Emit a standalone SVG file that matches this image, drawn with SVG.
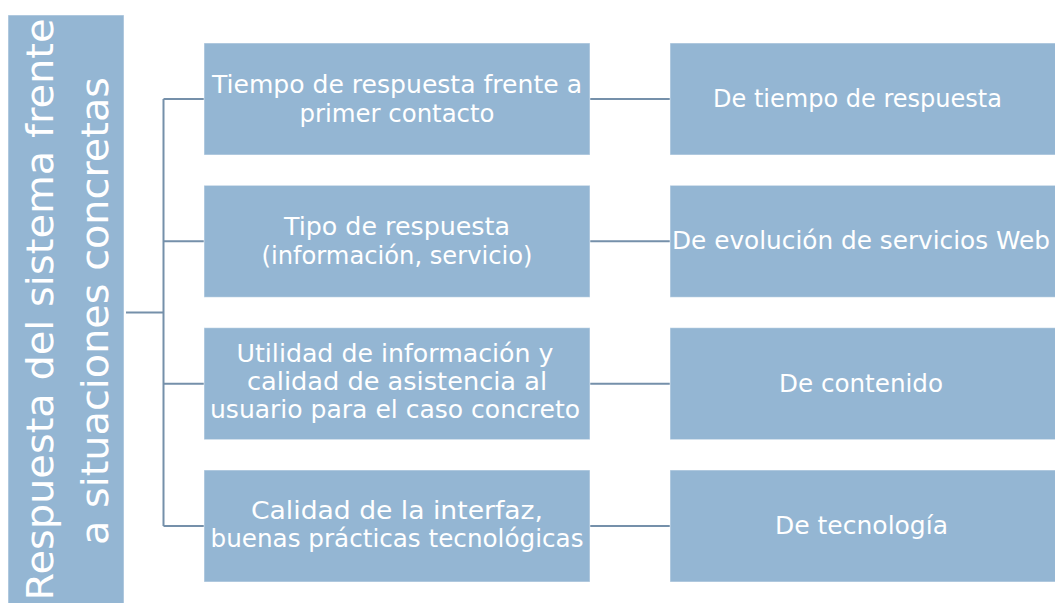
<svg xmlns="http://www.w3.org/2000/svg" width="1055" height="603" viewBox="0 0 1055 603">
<style>
.box{fill:#94B6D3;stroke:#ffffff;stroke-opacity:0.5;stroke-width:1}
.t{font-family:"DejaVu Sans",sans-serif;font-size:24px;fill:#ffffff;text-anchor:middle}
.big{font-family:"DejaVu Sans",sans-serif;font-size:38px;fill:#ffffff;text-anchor:middle}
.c{stroke:#7590AA;stroke-width:2;fill:none}
</style>
<rect width="1055" height="603" fill="#ffffff"/>
<g id="connectors">
<path class="c" d="M126 312.5H163.5M163.5 99V526M163.5 99H204M163.5 241.3H204M163.5 383.7H204M163.5 526H204"/>
<path class="c" d="M590 99H670M590 241.3H670M590 383.7H670M590 526H670"/>
</g>
<g id="root">
<rect class="box" x="8" y="15" width="116" height="600"/>
<text class="big" transform="translate(53,309.5) rotate(-90)" textLength="582" lengthAdjust="spacingAndGlyphs">Respuesta del sistema frente</text>
<text class="big" transform="translate(108,311) rotate(-90)" textLength="468" lengthAdjust="spacingAndGlyphs">a situaciones concretas</text>
</g>
<g id="m1">
<rect class="box" x="204" y="43" width="386" height="112"/>
<text class="t" x="397" y="93" textLength="370" lengthAdjust="spacingAndGlyphs">Tiempo de respuesta frente a</text>
<text class="t" x="397" y="121.7" textLength="195" lengthAdjust="spacingAndGlyphs">primer contacto</text>
</g>
<g id="m2">
<rect class="box" x="204" y="185.3" width="386" height="112"/>
<text class="t" x="397" y="235.3" textLength="226" lengthAdjust="spacingAndGlyphs">Tipo de respuesta</text>
<text class="t" x="397" y="264" textLength="271" lengthAdjust="spacingAndGlyphs">(información, servicio)</text>
</g>
<g id="m3">
<rect class="box" x="204" y="327.7" width="386" height="112"/>
<text class="t" x="395" y="362" textLength="317" lengthAdjust="spacingAndGlyphs">Utilidad de información y</text>
<text class="t" x="397" y="390" textLength="300" lengthAdjust="spacingAndGlyphs">calidad de asistencia al</text>
<text class="t" x="395" y="418" textLength="370" lengthAdjust="spacingAndGlyphs">usuario para el caso concreto</text>
</g>
<g id="m4">
<rect class="box" x="204" y="470" width="386" height="112"/>
<text class="t" x="397" y="518.5" textLength="292" lengthAdjust="spacingAndGlyphs">Calidad de la interfaz,</text>
<text class="t" x="397" y="547" textLength="373" lengthAdjust="spacingAndGlyphs">buenas prácticas tecnológicas</text>
</g>
<g id="r1">
<rect class="box" x="670" y="43" width="390" height="112"/>
<text class="t" x="857.5" y="107" textLength="289" lengthAdjust="spacingAndGlyphs">De tiempo de respuesta</text>
</g>
<g id="r2">
<rect class="box" x="670" y="185.3" width="390" height="112"/>
<text class="t" x="861" y="249" textLength="378" lengthAdjust="spacingAndGlyphs">De evolución de servicios Web</text>
</g>
<g id="r3">
<rect class="box" x="670" y="327.7" width="390" height="112"/>
<text class="t" x="861" y="391.5" textLength="164" lengthAdjust="spacingAndGlyphs">De contenido</text>
</g>
<g id="r4">
<rect class="box" x="670" y="470" width="390" height="112"/>
<text class="t" x="861.5" y="533.5" textLength="173" lengthAdjust="spacingAndGlyphs">De tecnología</text>
</g>
</svg>
